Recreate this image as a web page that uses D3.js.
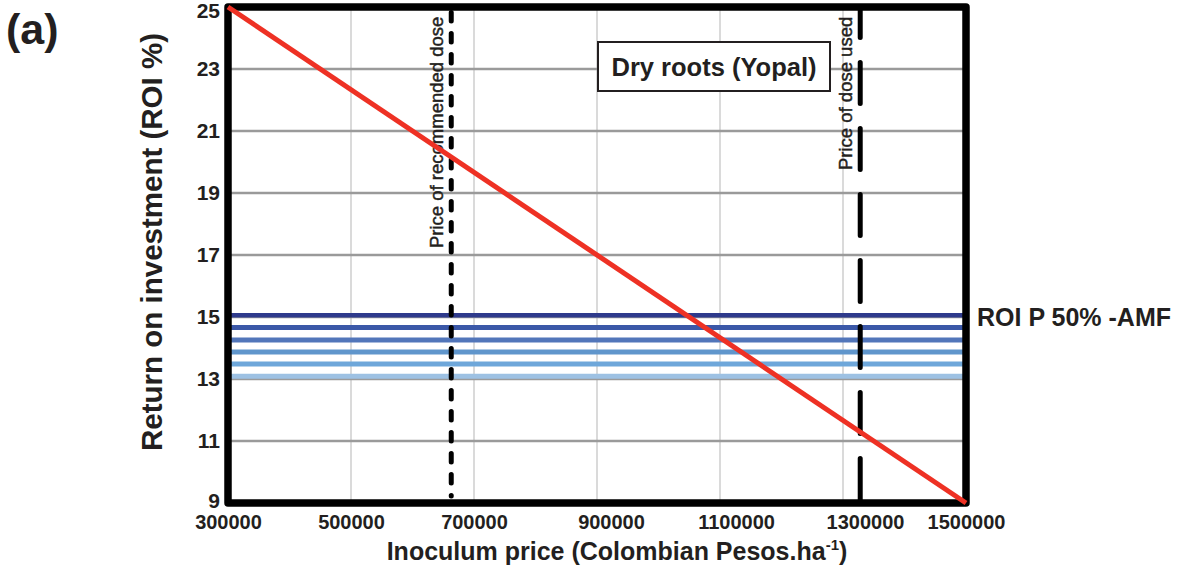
<!DOCTYPE html>
<html>
<head>
<meta charset="utf-8">
<script src="https://cdn.jsdelivr.net/npm/d3@7"></script>
<style>
  html, body { margin: 0; padding: 0; background: #fff; }
  svg { display: block; }
  text { font-family: "Liberation Sans", Arial, Helvetica, sans-serif; fill: #231f20; }
</style>
</head>
<body>
<svg id="chart" width="1180" height="573"></svg>
<script>
// Inoculum price (COP/ha) and the resulting return on investment
const priceRange = [300000, 1500000];
const roiAtPrice = [25, 9];

// ROI reached with 50% P fertilisation plus AMF (one line per replicate level)
const amfRoiLevels = [15.06, 14.66, 14.26, 13.87, 13.48, 13.09];

// Reference doses
const doseNames = ["Price of recommended dose", "Price of dose used"];
const dosePrices = [663000, 1328000];

// Axis ticks
const xTickValues = [300000, 500000, 700000, 900000, 1100000, 1300000, 1500000];
const yTickValues = [9, 11, 13, 15, 17, 19, 21, 23, 25];

const svg = d3.select("#chart");

const x = d3.scaleLinear().domain(priceRange).range([228, 966]);
const y = d3.scaleLinear().domain([9, 25]).range([503, 7]);

const amfColor = d3.scaleOrdinal()
  .domain(amfRoiLevels)
  .range(["#2e3a8c", "#3b58a8", "#5276ba", "#6096cc", "#6ea7da", "#9dc1e3"]);

// vertical grid
svg.append("g")
  .selectAll("line")
  .data(xTickValues.slice(1, -1))
  .join("line")
  .attr("x1", d => x(d)).attr("x2", d => x(d))
  .attr("y1", y(25)).attr("y2", y(9))
  .attr("stroke", "#dadada").attr("stroke-width", 2);

// horizontal grid
svg.append("g")
  .selectAll("line")
  .data(yTickValues.slice(1, -1))
  .join("line")
  .attr("x1", x(priceRange[0])).attr("x2", x(priceRange[1]))
  .attr("y1", d => y(d)).attr("y2", d => y(d))
  .attr("stroke", "#9a9a9a").attr("stroke-width", 2.5);

// AMF ROI lines
svg.append("g")
  .selectAll("line")
  .data(amfRoiLevels)
  .join("line")
  .attr("x1", x(priceRange[0])).attr("x2", x(priceRange[1]))
  .attr("y1", d => y(d)).attr("y2", d => y(d))
  .attr("stroke", d => amfColor(d))
  .attr("stroke-width", (d, i) => i === 0 ? 4.5 : 5);

// plot frame
svg.append("rect")
  .attr("x", x(priceRange[0])).attr("y", y(25))
  .attr("width", x(priceRange[1]) - x(priceRange[0]))
  .attr("height", y(9) - y(25))
  .attr("fill", "none")
  .attr("stroke", "#000").attr("stroke-width", 7.5)
  .attr("stroke-linejoin", "round");

// dose reference lines
const doseStyle = [
  { dash: "8.5,12.5", offset: 15.5, bottom: 496 },
  { dash: "41,25", offset: 10.5, bottom: y(9) }
];
const doses = doseNames.map((name, i) => ({ name, price: dosePrices[i], style: doseStyle[i] }));

svg.append("g")
  .selectAll("line")
  .data(doses)
  .join("line")
  .attr("x1", d => x(d.price)).attr("x2", d => x(d.price))
  .attr("y1", y(25)).attr("y2", d => d.style.bottom)
  .attr("stroke", "#000").attr("stroke-width", 5)
  .attr("stroke-linecap", "round")
  .attr("stroke-dasharray", d => d.style.dash)
  .attr("stroke-dashoffset", d => d.style.offset);

const doseLabelBottom = [248, 170];
svg.append("g")
  .selectAll("text")
  .data(doses)
  .join("text")
  .attr("transform", (d, i) => `translate(${x(d.price) - 8},${doseLabelBottom[i]}) rotate(-90)`)
  .attr("font-size", 18.5)
  .attr("stroke", "#231f20").attr("stroke-width", 0.45)
  .text(d => d.name);

// ROI line as price increases
const roiLine = d3.line().x(d => x(d[0])).y(d => y(d[1]));
svg.append("path")
  .datum(priceRange.map((p, i) => [p, roiAtPrice[i]]))
  .attr("d", roiLine)
  .attr("fill", "none")
  .attr("stroke", "#ee3124").attr("stroke-width", 5);

// axes
const labelNudge = { 900000: 14, 1100000: 16, 1300000: 22 };
const xAxis = svg.append("g")
  .attr("transform", `translate(0,${y(9)})`)
  .call(d3.axisBottom(x).tickValues(xTickValues).tickSize(0).tickPadding(12).tickFormat(d3.format("d")));
xAxis.select(".domain").remove();
xAxis.selectAll("text")
  .attr("font-size", 20).attr("font-weight", "bold")
  .attr("dx", d => labelNudge[d] || 0)
  .style("font-family", "'Liberation Sans', Arial, sans-serif").style("fill", "#231f20");

const yAxis = svg.append("g")
  .attr("transform", `translate(${x(priceRange[0])},0)`)
  .call(d3.axisLeft(y).tickValues(yTickValues).tickSize(0).tickPadding(8));
yAxis.select(".domain").remove();
yAxis.selectAll("text")
  .attr("font-size", 21).attr("font-weight", "bold")
  .attr("dy", d => d === 25 ? "0.5em" : (d === 9 ? "0.2em" : "0.32em"))
  .style("font-family", "'Liberation Sans', Arial, sans-serif").style("fill", "#231f20");

// axis titles
const xTitle = svg.append("text")
  .attr("x", 617).attr("y", 560)
  .attr("text-anchor", "middle")
  .attr("font-size", 25).attr("font-weight", "bold");
xTitle.append("tspan").text("Inoculum price (Colombian Pesos.ha");
xTitle.append("tspan").attr("font-size", 15).attr("dy", -10).text("-1");
xTitle.append("tspan").attr("dy", 10).text(")");

svg.append("text")
  .attr("transform", "translate(162,242) rotate(-90)")
  .attr("text-anchor", "middle")
  .attr("font-size", 29.5).attr("font-weight", "bold")
  .text("Return on investment (ROI %)");

// panel letter
svg.append("text")
  .attr("x", 6).attr("y", 44)
  .attr("font-size", 43).attr("font-weight", "bold")
  .text("(a)");

// site box
svg.append("rect")
  .attr("x", 598).attr("y", 42).attr("width", 232).attr("height", 49)
  .attr("fill", "#fff").attr("stroke", "#231f20").attr("stroke-width", 2);
svg.append("text")
  .attr("x", 714).attr("y", 76)
  .attr("text-anchor", "middle")
  .attr("font-size", 25.5).attr("font-weight", "bold")
  .text("Dry roots (Yopal)");

// AMF series label
svg.append("text")
  .attr("x", 977).attr("y", 326)
  .attr("font-size", 25).attr("font-weight", "bold")
  .text("ROI P 50% -AMF");
</script>
</body>
</html>
